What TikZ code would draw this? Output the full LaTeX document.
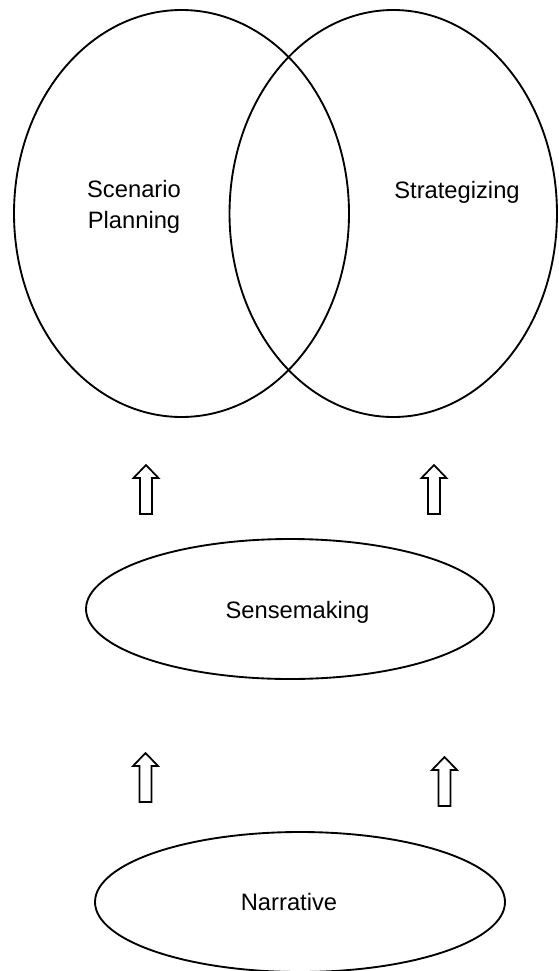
\documentclass[tikz,border=0pt]{standalone}
\usepackage{fontspec}
\setmainfont{Liberation Sans}
\usetikzlibrary{shapes.geometric}
\begin{document}
\begin{tikzpicture}[x=0.75pt,y=-0.75pt,
  oval/.style={draw,ellipse,line width=1.4pt,inner sep=0pt},
  lbl/.style={font=\fontsize{17.8}{23.3}\selectfont,align=center,inner sep=0pt},
  hollowup/.pic={\draw[line width=1.3pt,line join=miter] (-6,0) -- (-6,-36) -- (-12.5,-36) -- (0,-49) -- (12.5,-36) -- (6,-36) -- (6,0) -- cycle;}]
\useasboundingbox (0,0) rectangle (558,971);
\node[oval,minimum width=251.25pt,minimum height=305.25pt] (scen) at (181.5,213.5) {};
\node[oval,minimum width=245.6pt,minimum height=305.25pt] (strat) at (393.25,213.5) {};
\node[oval,minimum width=306pt,minimum height=105pt] (sense) at (290,609) {};
\node[oval,minimum width=307.5pt,minimum height=105pt] (narr) at (300,902) {};
\node[lbl] (tscen) at (134,207) {Scenario\\Planning};
\node[lbl] (tstrat) at (457,192) {Strategizing};
\node[lbl] (tsense) at (297.5,612) {Sensemaking};
\node[lbl] (tnarr) at (289,902) {Narrative};
\pic (a1) at (146,514) {hollowup};
\pic (a2) at (434,514) {hollowup};
\pic (a3) at (145.5,802) {hollowup};
\pic (a4) at (444.5,806) {hollowup};
\end{tikzpicture}
\end{document}
